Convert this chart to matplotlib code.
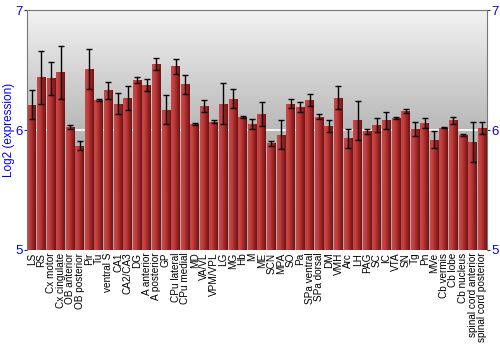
import numpy as np
import matplotlib.pyplot as plt
from matplotlib.colors import LinearSegmentedColormap

plt.rcParams["font.family"] = ["Liberation Sans", "DejaVu Sans"]

# Regions and log2 expression values
regions = ["LS", "RS", "Cx motor", "Cx cingulate", "OB anterior", "OB posterior",
           "Pir", "Tu", "ventral S", "CA1", "CA2/CA3", "DG", "A anterior",
           "A posterior", "GP", "CPu lateral", "CPu medial", "MD", "VA/VL",
           "VPM/VPL", "LG", "MG", "Hb", "M", "ME", "SCN", "MPA", "SO", "Pa",
           "SPa ventral", "SPa dorsal", "DM", "VMH", "Arc", "LH", "PAG", "SC",
           "IC", "VTA", "SN", "Tg", "Pn", "MVe", "Cb vermis", "Cb lobe",
           "Cb nucleus", "spinal cord anterior", "spinal cord posterior"]
values = [6.21, 6.44, 6.43, 6.48, 6.025, 5.87, 6.51, 6.25, 6.33, 6.22, 6.27,
          6.42, 6.375, 6.55, 6.17, 6.53, 6.38, 6.05, 6.20, 6.07, 6.22, 6.26,
          6.11, 6.05, 6.13, 5.89, 5.96, 6.22, 6.19, 6.25, 6.11, 6.03, 6.27,
          5.93, 6.08, 5.99, 6.04, 6.08, 6.10, 6.16, 6.01, 6.06, 5.92, 6.02,
          6.08, 5.96, 5.90, 6.02]
errors = [0.12, 0.22, 0.14, 0.22, 0.02, 0.04, 0.17, 0.005, 0.07, 0.09, 0.10,
          0.025, 0.05, 0.05, 0.12, 0.06, 0.08, 0.01, 0.05, 0.01, 0.17, 0.08,
          0.01, 0.04, 0.10, 0.02, 0.12, 0.04, 0.04, 0.05, 0.02, 0.05, 0.095,
          0.08, 0.16, 0.02, 0.06, 0.07, 0.005, 0.015, 0.06, 0.04, 0.07, 0.005,
          0.03, 0.01, 0.17, 0.05]

ymin, ymax = 5, 7
blue = "#0000ff"

fig = plt.figure(figsize=(5, 3.5), dpi=100)
ax = fig.add_axes([0.054, 0.286, 0.92, 0.685])

x = np.arange(len(regions))
ax.set_xlim(-0.5, len(regions) - 0.5)
ax.set_ylim(ymin, ymax)

# gray vertical gradient background
bg = LinearSegmentedColormap.from_list("bg", ["#a8a8a8", "#b8b8b8", "#f2f2f2"])
grad = np.linspace(0, 1, 256).reshape(-1, 1)
ax.imshow(grad, cmap=bg, origin="lower", aspect="auto",
          extent=[-0.5, len(regions) - 0.5, ymin, ymax], zorder=0)
ax.axhline(6, color="white", lw=1.2, zorder=1)

# bars with a left-to-right red gradient
red = LinearSegmentedColormap.from_list("red", ["#c94a4a", "#c03c3c", "#9a2626", "#6e1414"])
hgrad = np.linspace(0, 1, 64).reshape(1, -1)
bars = ax.bar(x, np.array(values) - ymin, bottom=ymin, width=0.92,
              color="none", edgecolor="none", zorder=2)
for b in bars:
    bx, by = b.get_x(), b.get_y()
    im = ax.imshow(hgrad, cmap=red, aspect="auto", zorder=2,
                   extent=[bx, bx + b.get_width(), by, by + b.get_height()])
    im.set_clip_path(b)

ax.errorbar(x, values, yerr=errors, fmt="none", ecolor="black",
            elinewidth=1, capsize=2, capthick=1, zorder=3)

ax.set_xticks(x)
ax.set_xticklabels(regions, rotation=90, fontsize=7.2, color="black")
ax.set_yticks([5, 6, 7])
ax.tick_params(axis="y", colors="#333333", labelcolor=blue, labelsize=9.5,
               length=2, pad=1, left=True, right=True,
               labelleft=True, labelright=True)
ax.tick_params(axis="x", length=0, pad=2)
ax.set_ylabel("Log2 (expression)", color=blue, fontsize=8.5)
ax.yaxis.set_label_coords(-0.027, 0.5)

for side in ["left", "right", "top"]:
    ax.spines[side].set_color("#777777")
ax.spines["bottom"].set_visible(False)

fig.savefig("out.png", dpi=100)
